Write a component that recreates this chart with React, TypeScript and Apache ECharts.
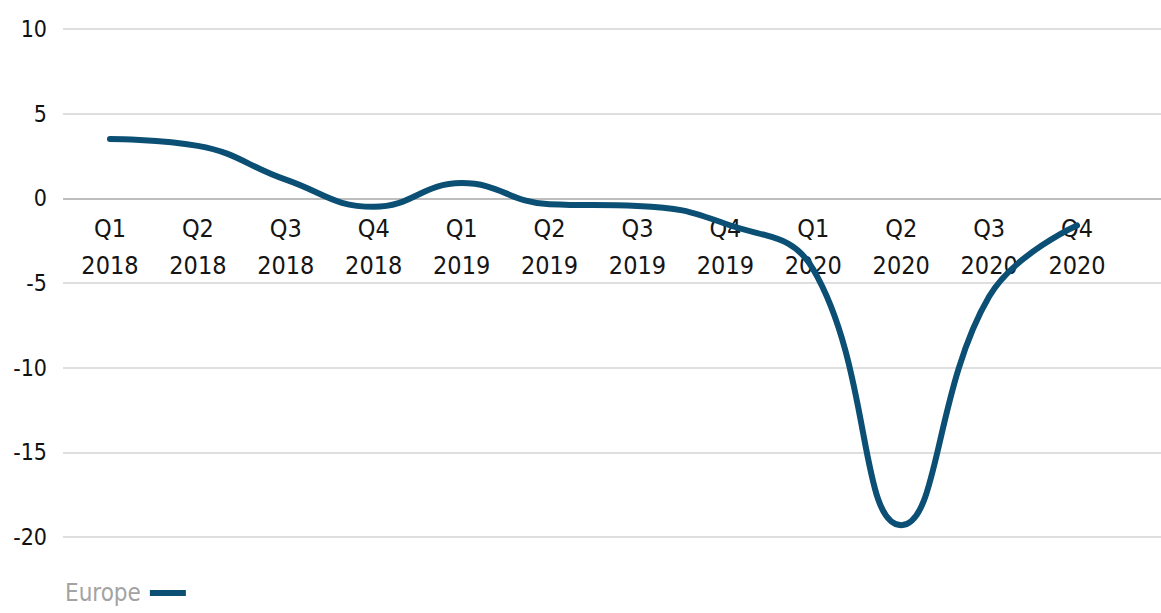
import React, { useEffect, useRef } from "react";
import * as echarts from "echarts";

const categories = [
  "Q1\n2018", "Q2\n2018", "Q3\n2018", "Q4\n2018",
  "Q1\n2019", "Q2\n2019", "Q3\n2019", "Q4\n2019",
  "Q1\n2020", "Q2\n2020", "Q3\n2020", "Q4\n2020",
];
const europeValues = [3.5, 3.1, 1.1, -0.5, 0.9, -0.35, -0.45, -1.5, -4.2, -19.3, -5.8, -1.6];
const seriesName = "Europe";
const yMin = -20;
const yMax = 10;
const yStep = 5;

const FONT = "'DejaVu Sans Condensed', 'Liberation Sans Narrow', sans-serif";
const LINE_COLOR = "#0b4f75";

export default function App() {
  const ref = useRef<HTMLDivElement>(null);
  useEffect(() => {
    if (!ref.current) return;
    const chart = echarts.init(ref.current, null, { renderer: "svg" });
    const gridColors = [] as string[];
    for (let v = yMin; v <= yMax; v += yStep) gridColors.push(v === 0 ? "#a9a9a9" : "#d4d4d4");
    chart.setOption({
      animation: false,
      grid: [
        { left: 63, right: 0, top: 29, bottom: 76, containLabel: false },
        { left: 66, right: 40, top: 29, bottom: 76, containLabel: false },
      ],
      legend: {
        data: [seriesName],
        left: 60,
        top: 576,
        align: "right",
        icon: "rect",
        itemWidth: 36,
        itemHeight: 6,
        textStyle: { color: "#a3a3a3", fontSize: 24, fontFamily: FONT, padding: [0, 4, 0, 0] },
      },
      xAxis: [
        { type: "category", gridIndex: 0, data: categories, show: false },
        {
          type: "category",
          gridIndex: 1,
          data: categories,
          boundaryGap: true,
          position: "bottom",
          offset: -338,
          axisLine: { show: false, onZero: false },
          axisTick: { show: false },
          splitLine: { show: false },
          axisLabel: {
            color: "#151515",
            fontSize: 25,
            lineHeight: 37,
            fontFamily: FONT,
            margin: 11,
            interval: 0,
          },
        },
      ],
      yAxis: [
        {
          type: "value",
          gridIndex: 0,
          min: yMin,
          max: yMax,
          interval: yStep,
          axisLine: { show: false },
          axisTick: { show: false },
          axisLabel: { color: "#111111", fontSize: 23, fontFamily: FONT, margin: 16 },
          splitLine: { show: true, lineStyle: { color: gridColors, width: 1.5 } },
        },
        {
          type: "value",
          gridIndex: 1,
          min: yMin,
          max: yMax,
          interval: yStep,
          show: false,
          splitLine: { show: false },
        },
      ],
      series: [
        {
          name: seriesName,
          type: "line",
          xAxisIndex: 1,
          yAxisIndex: 1,
          data: europeValues,
          smooth: 0.45,
          symbol: "none",
          lineStyle: { color: LINE_COLOR, width: 6, cap: "round" },
          itemStyle: { color: LINE_COLOR },
        },
      ],
    });
    return () => chart.dispose();
  }, []);
  return (
    <div
      ref={ref}
      style={{ position: "absolute", left: 0, top: 0, width: 1161, height: 613, background: "#fff" }}
    />
  );
}
